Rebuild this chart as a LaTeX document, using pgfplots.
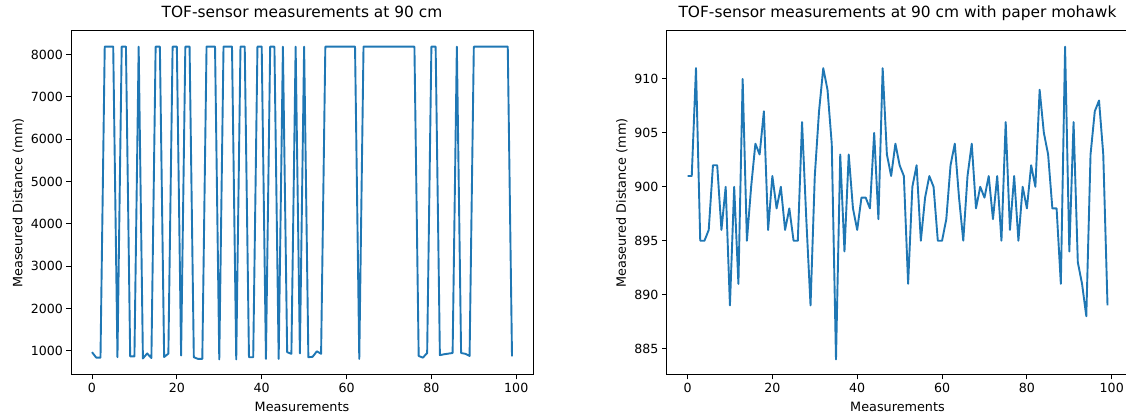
\documentclass[border=0pt]{standalone}
\usepackage{fontspec}
\setmainfont{DejaVu Sans}
\usepackage{pgfplots}
\pgfplotsset{compat=1.18}
\usepackage{pgfplotstable}
\definecolor{tabblue}{RGB}{31,119,180}

% plain sensor run: 8190 = out of range reading
\pgfplotstableread{
x y
0 970
1 840
2 840
3 8190
4 8190
5 8190
6 850
7 8190
8 8190
9 870
10 870
11 8190
12 820
13 940
14 830
15 8190
16 8190
17 855
18 935
19 8190
20 8190
21 890
22 8190
23 8190
24 850
25 810
26 810
27 8190
28 8190
29 8190
30 800
31 8190
32 8190
33 8190
34 800
35 8190
36 8190
37 850
38 850
39 8190
40 8190
41 810
42 8190
43 8190
44 810
45 8190
46 970
47 930
48 8190
49 940
50 8190
51 850
52 860
53 990
54 930
55 8190
56 8190
57 8190
58 8190
59 8190
60 8190
61 8190
62 8190
63 810
64 8190
65 8190
66 8190
67 8190
68 8190
69 8190
70 8190
71 8190
72 8190
73 8190
74 8190
75 8190
76 8190
77 880
78 840
79 950
80 8190
81 8190
82 900
83 920
84 935
85 950
86 8190
87 950
88 930
89 880
90 8190
91 8190
92 8190
93 8190
94 8190
95 8190
96 8190
97 8190
98 8190
99 870
}\plainrun

% with paper mohawk
\pgfplotstableread{
x y
0 901
1 901
2 911
3 895
4 895
5 896
6 902
7 902
8 896
9 900
10 889
11 900
12 891
13 910
14 895
15 900
16 904
17 903
18 907
19 896
20 901
21 898
22 900
23 896
24 898
25 895
26 895
27 906
28 897
29 889
30 901
31 907
32 911
33 909
34 904
35 884
36 903
37 894
38 903
39 898
40 896
41 899
42 899
43 898
44 905
45 897
46 911
47 903
48 901
49 904
50 902
51 901
52 891
53 900
54 902
55 895
56 899
57 901
58 900
59 895
60 895
61 897
62 902
63 904
64 899
65 895
66 901
67 904
68 898
69 900
70 899
71 901
72 897
73 901
74 895
75 906
76 896
77 901
78 895
79 900
80 898
81 902
82 900
83 909
84 905
85 903
86 898
87 898
88 891
89 913
90 894
91 906
92 893
93 891
94 888
95 903
96 907
97 908
98 903
99 889
}\mohawkrun

\pgfplotsset{
  tofaxis/.style={
    scale only axis,
    width=462pt, height=344pt,
    anchor=south west,
    xmin=-4.95, xmax=103.95,
    xtick={0,20,...,100},
    tick align=outside,
    xtick pos=bottom, ytick pos=left,
    major tick length=4.5pt,
    every tick/.style={black, line width=1pt},
    axis line style={line width=1pt},
    tick label style={font=\fontsize{12.6}{15}\selectfont},
    label style={font=\fontsize{12.8}{15}\selectfont},
    xlabel style={yshift=-3pt},
    title style={font=\fontsize{15.4}{18}\selectfont, at={(0.5,1)}, anchor=base, yshift=7.7pt},
    /pgf/number format/assume math mode=true,
    /pgf/number format/1000 sep={},
    xlabel={Measurements},
    ylabel={Measeured Distance (mm)},
  },
}

\begin{document}
\begin{tikzpicture}
\useasboundingbox (0,0) rectangle (1126pt,419pt);

\begin{axis}[tofaxis,
    at={(71pt,44pt)},
    ymin=430, ymax=8560,
    ytick={1000,2000,...,8000},
    title={TOF-sensor measurements at 90 cm},
]
\addplot[tabblue, line width=1.9pt, line join=round, mark=none] table[x=x, y=y] {\plainrun};
\end{axis}

\begin{axis}[tofaxis,
    at={(666.5pt,44pt)},
    ymin=882.55, ymax=914.45,
    ytick={885,890,...,910},
    title={TOF-sensor measurements at 90 cm with paper mohawk},
]
\addplot[tabblue, line width=1.9pt, line join=round, mark=none] table[x=x, y=y] {\mohawkrun};
\end{axis}
\end{tikzpicture}
\end{document}
